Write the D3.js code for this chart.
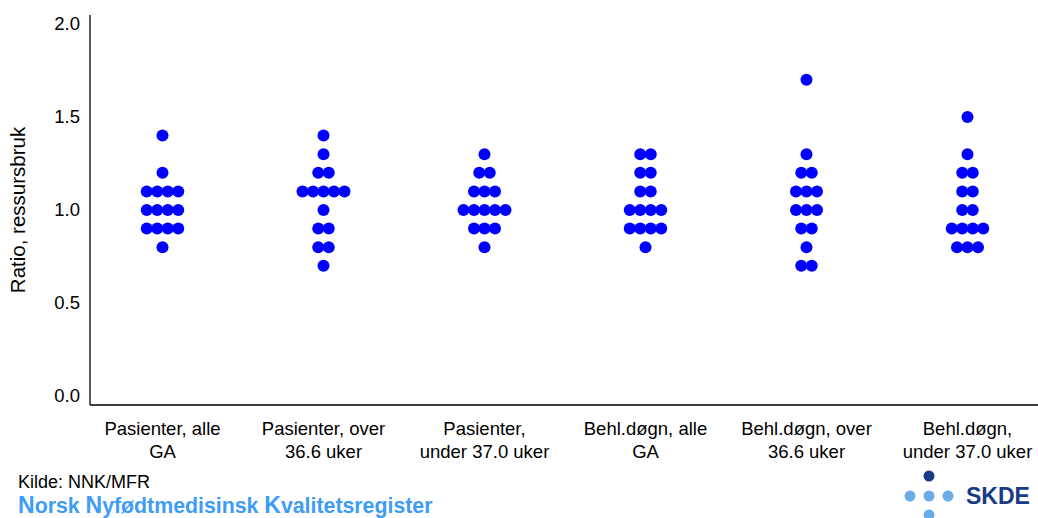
<!DOCTYPE html>
<html>
<head>
<meta charset="utf-8">
<script src="https://cdn.jsdelivr.net/npm/d3@7/dist/d3.min.js"></script>
<style>
  html, body { margin: 0; padding: 0; background: #fff; }
  svg { display: block; font-family: "Liberation Sans", Arial, sans-serif; }
</style>
</head>
<body>
<svg id="chart" width="1038" height="518"></svg>
<script>
// ---- data ----
const categories = [
  "Pasienter, alle GA",
  "Pasienter, over 36.6 uker",
  "Pasienter, under 37.0 uker",
  "Behl.døgn, alle GA",
  "Behl.døgn, over 36.6 uker",
  "Behl.døgn, under 37.0 uker"
];
const categoryLines = [
  ["Pasienter, alle", "GA"],
  ["Pasienter, over", "36.6 uker"],
  ["Pasienter,", "under 37.0 uker"],
  ["Behl.døgn, alle", "GA"],
  ["Behl.døgn, over", "36.6 uker"],
  ["Behl.døgn,", "under 37.0 uker"]
];
const ratioPasienterAlle   = [1.4, 1.2, 1.1, 1.1, 1.1, 1.1, 1.0, 1.0, 1.0, 1.0, 0.9, 0.9, 0.9, 0.9, 0.8];
const ratioPasienterOver   = [1.4, 1.3, 1.2, 1.2, 1.1, 1.1, 1.1, 1.1, 1.1, 1.0, 0.9, 0.9, 0.8, 0.8, 0.7];
const ratioPasienterUnder  = [1.3, 1.2, 1.2, 1.1, 1.1, 1.1, 1.0, 1.0, 1.0, 1.0, 1.0, 0.9, 0.9, 0.9, 0.8];
const ratioDognAlle        = [1.3, 1.3, 1.2, 1.2, 1.1, 1.1, 1.0, 1.0, 1.0, 1.0, 0.9, 0.9, 0.9, 0.9, 0.8];
const ratioDognOver        = [1.7, 1.3, 1.2, 1.2, 1.1, 1.1, 1.1, 1.0, 1.0, 1.0, 0.9, 0.9, 0.8, 0.7, 0.7];
const ratioDognUnder       = [1.5, 1.3, 1.2, 1.2, 1.1, 1.1, 1.0, 1.0, 0.9, 0.9, 0.9, 0.9, 0.8, 0.8, 0.8];
const seriesValues = [ratioPasienterAlle, ratioPasienterOver, ratioPasienterUnder,
                      ratioDognAlle, ratioDognOver, ratioDognUnder];
const yTicks = [0.0, 0.5, 1.0, 1.5, 2.0];
const yLabel = "Ratio, ressursbruk";
const sourceText = "Kilde: NNK/MFR";

// ---- layout ----
const svg = d3.select("#chart");
const axisX = 90, axisBottom = 405, axisTop = 15;
const x = d3.scalePoint().domain(categories).range([162.5, 967.5]);
const y = d3.scaleLinear().domain([0, 2]).range([396, 24]);
const fontSize = 18.5;
const dotR = 6, dotStep = 10.5;

// axes lines
svg.append("line").attr("x1", axisX).attr("x2", axisX).attr("y1", axisTop).attr("y2", axisBottom)
  .attr("stroke", "#000").attr("stroke-width", 1.3);
svg.append("line").attr("x1", axisX).attr("x2", 1038).attr("y1", axisBottom).attr("y2", axisBottom)
  .attr("stroke", "#000").attr("stroke-width", 1.3);

// y axis tick labels via d3 axis
const yAxis = d3.axisLeft(y).tickValues(yTicks).tickFormat(d3.format(".1f")).tickSize(0).tickPadding(0);
const gy = svg.append("g").attr("transform", "translate(80,0)").call(yAxis);
gy.select(".domain").remove();
gy.selectAll("text").attr("font-size", fontSize).attr("font-family", "Liberation Sans, Arial, sans-serif")
  .attr("fill", "#000");

// y label
svg.append("text").attr("transform", "translate(25,210) rotate(-90)")
  .attr("text-anchor", "middle").attr("font-size", 20.5).attr("fill", "#000").text(yLabel);

// x labels
const xl = svg.append("g");
categories.forEach((c, i) => {
  const t = xl.append("text").attr("x", x(c)).attr("text-anchor", "middle")
    .attr("font-size", fontSize).attr("fill", "#000");
  categoryLines[i].forEach((ln, k) => {
    t.append("tspan").attr("x", x(c)).attr("y", 435 + k * 23).text(ln);
  });
});

// dots (dot-plot stacking horizontally per value)
const dots = [];
categories.forEach((c, i) => {
  const counts = d3.rollup(seriesValues[i], v => v.length, v => v.toFixed(1));
  counts.forEach((n, key) => {
    for (let j = 0; j < n; j++) {
      dots.push({cat: c, value: +key, offset: (j - (n - 1) / 2) * dotStep});
    }
  });
});
svg.append("g").selectAll("circle").data(dots).join("circle")
  .attr("cx", d => x(d.cat) + d.offset)
  .attr("cy", d => y(d.value))
  .attr("r", dotR)
  .attr("fill", "#0000ff");

// footer
svg.append("text").attr("x", 18).attr("y", 488).attr("font-size", 18).attr("fill", "#000").text(sourceText);
const reg = svg.append("text").attr("x", 18).attr("y", 513).attr("font-weight", "bold").attr("fill", "#3d9cf5");
[["N", 23], ["orsk ", 21.3], ["N", 23], ["yfødtmedisinsk ", 21.3], ["K", 23], ["valitetsregister", 21.3]]
  .forEach(([s, fs]) => reg.append("tspan").attr("font-size", fs).text(s));

// SKDE logo
const logo = svg.append("g");
logo.append("circle").attr("cx", 929).attr("cy", 476).attr("r", 5.5).attr("fill", "#1a3a85");
[910, 929, 948].forEach(cx => logo.append("circle").attr("cx", cx).attr("cy", 496).attr("r", 5.5).attr("fill", "#6aace6"));
logo.append("circle").attr("cx", 929).attr("cy", 515).attr("r", 5.5).attr("fill", "#6aace6");
logo.append("text").attr("x", 966).attr("y", 504).attr("font-size", 23).attr("font-weight", "bold")
  .attr("fill", "#1a3a85").text("SKDE");
</script>
</body>
</html>
